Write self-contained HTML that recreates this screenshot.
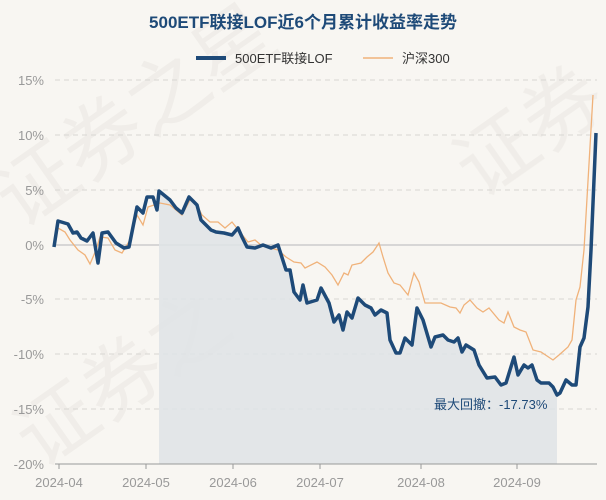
<!DOCTYPE html>
<html><head><meta charset="utf-8"><style>
html,body{margin:0;padding:0;width:606px;height:500px;overflow:hidden;background:#f8f6f2;}
svg{display:block;font-family:"Liberation Sans","Noto Sans CJK SC",sans-serif;}
</style></head><body>
<svg width="606" height="500" viewBox="0 0 606 500" overflow="hidden">
<rect width="606" height="500" fill="#f8f6f2"/>
<g fill="#ebe8e3" font-size="80" opacity="0.6">
<text x="20" y="230" transform="rotate(-35 20 230)">证券之星</text>
<text x="40" y="470" transform="rotate(-35 40 470)">证券之</text>
<text x="480" y="200" transform="rotate(-35 480 200)">证券</text>
</g>
<text x="303" y="28" text-anchor="middle" font-size="17" font-weight="bold" fill="#1e4a78">500ETF联接LOF近6个月累计收益率走势</text>
<line x1="196" y1="58" x2="226" y2="58" stroke="#1e4a78" stroke-width="4"/>
<text x="235" y="63" font-size="13" fill="#333">500ETF联接LOF</text>
<line x1="363" y1="58" x2="393" y2="58" stroke="#f0b27a" stroke-width="1.5"/>
<text x="402" y="63" font-size="13" fill="#333">沪深300</text>
<g stroke="#d8d6d2" stroke-dasharray="5,4" stroke-width="1">
<line x1="55" y1="80" x2="597" y2="80"/><line x1="55" y1="135" x2="597" y2="135"/>
<line x1="55" y1="190" x2="597" y2="190"/><line x1="55" y1="299" x2="597" y2="299"/>
<line x1="55" y1="354" x2="597" y2="354"/><line x1="55" y1="409" x2="597" y2="409"/>
</g>
<line x1="55" y1="245" x2="597" y2="245" stroke="#ccc" stroke-width="1.5"/>
<g font-size="13" fill="#999" text-anchor="end">
<text x="44" y="85">15%</text><text x="44" y="140">10%</text><text x="44" y="195">5%</text>
<text x="44" y="250">0%</text><text x="44" y="304">-5%</text><text x="44" y="359">-10%</text>
<text x="44" y="414">-15%</text><text x="44" y="469">-20%</text>
</g>
<polygon fill="#dfe3e6" opacity="0.85" points="159,464 159,191 170,200 176,208 182,213 189,197 197,205 201,220 211,230 216,232 224,233 232,235 238,228 242,237 247,247 255,248 263,245 271,248 278,245 286,270 290,270 294,292 300,300 303,285 307,303 317,300 321,288 329,303 334,322 339,315 343,330 347,312 352,318 358,298 365,305 371,308 375,315 381,310 387,313 390,340 396,353 400,353 405,338 412,345 417,308 423,320 431,347 435,337 443,335 448,340 454,342 458,338 462,352 466,345 474,350 479,365 487,378 495,377 501,385 506,383 514,357 518,375 524,365 528,368 532,365 537,380 541,383 549,383 553,387 557,395 557,464"/>
<line x1="55" y1="464" x2="597" y2="464" stroke="#999" stroke-width="1"/>
<g stroke="#999"><line x1="59" y1="464" x2="59" y2="469"/><line x1="146" y1="464" x2="146" y2="469"/><line x1="233" y1="464" x2="233" y2="469"/><line x1="320" y1="464" x2="320" y2="469"/><line x1="421" y1="464" x2="421" y2="469"/><line x1="517" y1="464" x2="517" y2="469"/></g>
<g font-size="13" fill="#999" text-anchor="middle">
<text x="59" y="487">2024-04</text><text x="146" y="487">2024-05</text><text x="233" y="487">2024-06</text>
<text x="320" y="487">2024-07</text><text x="421" y="487">2024-08</text><text x="517" y="487">2024-09</text>
</g>
<polyline fill="none" stroke="#f0b27a" stroke-width="1.3" points="55,245 58,228 65,232 70,240 78,250 85,255 90,264 96,250 100,237 108,238 115,250 122,253 130,240 137,215 143,225 148,207 160,203 170,205 176,210 182,215 190,200 197,205 202,215 210,222 218,222 225,228 232,222 240,232 248,242 255,240 262,246 270,248 278,250 286,257 294,262 301,263 305,268 317,262 325,267 332,275 338,285 344,273 348,275 352,265 361,263 367,257 373,252 379,243 383,257 388,273 394,283 400,285 408,295 414,273 419,282 425,303 441,303 450,307 456,308 460,313 464,305 470,300 477,308 483,312 489,308 499,320 504,323 508,312 514,327 520,330 526,332 533,350 541,352 553,360 559,355 568,347 572,340 576,300 580,287 584,250 593,95"/>
<polyline fill="none" stroke="#1e4a78" stroke-width="3.5" stroke-linejoin="round" points="54,247 58,221 68,224 73,233 77,232 81,238 87,241 93,233 98,263 102,233 108,232 116,243 124,248 129,247 137,207 143,213 147,197 153,197 157,210 159,191 170,200 176,208 182,213 189,197 197,205 201,220 211,230 216,232 224,233 232,235 238,228 242,237 247,247 255,248 263,245 271,248 278,245 286,270 290,270 294,292 300,300 303,285 307,303 317,300 321,288 329,303 334,322 339,315 343,330 347,312 352,318 358,298 365,305 371,308 375,315 381,310 387,313 390,340 396,353 400,353 405,338 412,345 417,308 423,320 431,347 435,337 443,335 448,340 454,342 458,338 462,352 466,345 474,350 479,365 487,378 495,377 501,385 506,383 514,357 518,375 524,365 528,368 532,365 537,380 541,383 549,383 553,387 557,395 560,393 566,380 572,385 576,385 580,347 584,338 588,307 591,250 596,133"/>
<text x="434" y="409" font-size="13" fill="#1e4a78">最大回撤：-17.73%</text>
</svg>
</body></html>
